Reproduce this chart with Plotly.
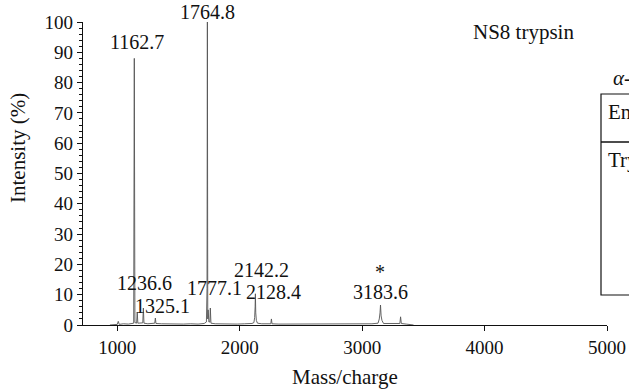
import plotly.graph_objects as go

# Spectrum trace (m/z, relative intensity %)
spectrum_mz = [940, 980, 1000, 1008, 1016, 1050, 1090, 1120, 1134, 1139, 1144,
               1158, 1163, 1168, 1208, 1213, 1218, 1250, 1290, 1306, 1311, 1316,
               1360, 1420, 1480, 1540, 1600, 1660, 1710, 1728, 1733, 1736, 1739,
               1742, 1748, 1756, 1760, 1765, 1800, 1860, 1920, 1980, 2040, 2100,
               2116, 2122, 2126, 2128, 2131, 2136, 2145, 2180, 2254, 2259, 2264,
               2320, 2400, 2500, 2600, 2700, 2800, 2900, 3000, 3080, 3130, 3140,
               3146, 3150, 3155, 3162, 3175, 3250, 3300, 3308, 3314, 3320, 3360,
               3420]
spectrum_int = [0.0, 0.3, 0.2, 1.2, 0.2, 0.4, 0.3, 0.5, 0.6, 88.0, 0.8,
                0.6, 4.2, 0.6, 0.7, 5.6, 0.6, 0.4, 0.5, 0.6, 2.3, 0.5,
                0.4, 0.3, 0.4, 0.3, 0.4, 0.3, 0.5, 1.0, 12.0, 100.0, 2.0,
                5.0, 1.0, 1.0, 5.6, 0.6, 0.4, 0.3, 0.4, 0.3, 0.4, 0.5,
                0.8, 2.5, 6.0, 10.3, 4.0, 1.5, 0.6, 0.4, 0.4, 2.0, 0.4,
                0.3, 0.3, 0.3, 0.2, 0.3, 0.2, 0.3, 0.3, 0.4, 0.6, 2.0,
                4.0, 6.6, 3.0, 1.5, 0.5, 0.4, 0.4, 0.5, 2.7, 0.5, 0.3,
                0.0]

# Peak labels and their positions (m/z, intensity %)
label_text = ["1764.8", "1162.7", "1236.6", "1325.1", "1777.1", "2142.2", "2128.4", "*", "3183.6"]
label_mz = [1733, 1165, 1226, 1373, 1798, 2182, 2280, 3146, 3154]
label_int = [103.3, 93.4, 13.9, 6.3, 12.2, 18.2, 10.9, 17.5, 10.9]

x_ticks = [1000, 2000, 3000, 4000, 5000]
y_ticks = [0, 10, 20, 30, 40, 50, 60, 70, 80, 90, 100]
Y_MAX = 100

FONT = "'Liberation Serif', 'Times New Roman', Times, serif"
FS_NUM = 19
FS_TXT = 21

fig = go.Figure()
fig.add_trace(go.Scatter(
    x=spectrum_mz, y=spectrum_int, mode="lines",
    line=dict(color="#555555", width=0.9), hoverinfo="skip", showlegend=False,
))

for t, xm, yi in zip(label_text, label_mz, label_int):
    fig.add_annotation(x=xm, y=yi / Y_MAX, xref="x", yref="paper", text=t, showarrow=False,
                       xanchor="center", yanchor="middle",
                       font=dict(family=FONT, size=20, color="#111"))

L, T, R, B = 83, 22, 22, 65
W, H = 629, 390
pw, ph = W - L - R, H - T - B

def px(xp):
    return (xp - L) / pw

def py(yp):
    return (H - B - yp) / ph

def note(x, y, text, size=FS_TXT, xanchor="center", angle=0):
    fig.add_annotation(x=px(x), y=py(y), xref="paper", yref="paper", text=text,
                       showarrow=False, xanchor=xanchor, yanchor="middle", textangle=angle,
                       font=dict(family=FONT, size=size, color="#111"))

# Axis titles and panel text
note(345, 377, "Mass/charge")
note(18, 148, "Intensity (%)", angle=-90)
note(523, 32, "NS8 trypsin")

# Partially visible table at the right edge
fig.add_shape(type="rect", xref="paper", yref="paper", x0=px(601), x1=px(660),
              y0=py(295), y1=py(94), line=dict(color="#111", width=1.2))
fig.add_shape(type="line", xref="paper", yref="paper", x0=px(601), x1=px(660),
              y0=py(142), y1=py(142), line=dict(color="#111", width=1.6))
note(611, 78, "<i>α</i>-", xanchor="left")
note(606, 112, "En", xanchor="left")
note(606, 160, "Try", xanchor="left")

fig.update_layout(
    width=W, height=H,
    margin=dict(l=L, r=R, t=T, b=B, pad=0, autoexpand=False),
    paper_bgcolor="white", plot_bgcolor="white",
    font=dict(family=FONT, size=FS_NUM, color="#111"),
    xaxis=dict(range=[720, 5000], tickvals=x_ticks, ticks="outside", ticklen=5,
               tickwidth=1.2, tickcolor="#111", showline=True, linecolor="#111",
               linewidth=1.2, showgrid=False, zeroline=False,
               tickfont=dict(family=FONT, size=FS_NUM)),
    yaxis=dict(range=[0, Y_MAX], tickvals=y_ticks, ticks="outside", ticklen=5,
               tickwidth=1.2, tickcolor="#111", showline=True, linecolor="#111",
               linewidth=1.2, showgrid=False, zeroline=False,
               tickfont=dict(family=FONT, size=FS_NUM),
               minor=dict(dtick=2, ticks="outside", ticklen=3, tickcolor="#111", tickwidth=1)),
)

fig.write_html("out.html")
